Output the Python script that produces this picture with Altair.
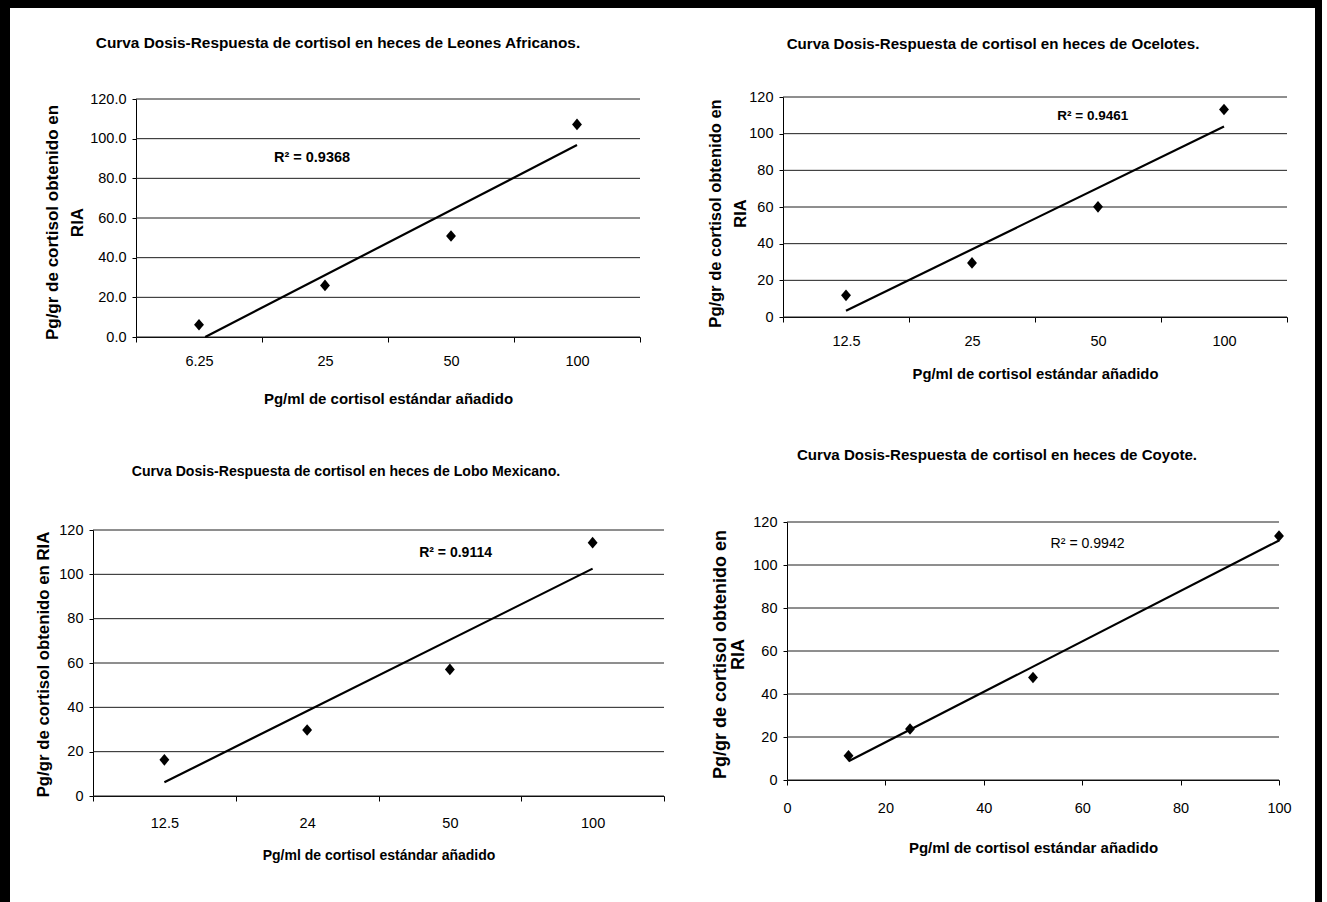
import json
import numpy as np
import pandas as pd
import altair as alt

FONT = "Liberation Sans, Arial, Helvetica, sans-serif"
DIAMOND = "M-0.85,0L0,-1L0.85,0L0,1Z"

# ---------------- data ----------------
leon_cats = ["6.25", "25", "50", "100"]
leon_vals = [6.2, 26.0, 50.9, 107.2]
leon_title = "Curva Dosis-Respuesta de cortisol en heces de Leones Africanos."
leon_r2 = "R\u00b2 = 0.9368"

ocel_cats = ["12.5", "25", "50", "100"]
ocel_vals = [11.8, 29.5, 60.1, 113.2]
ocel_title = "Curva Dosis-Respuesta de cortisol en heces de Ocelotes."
ocel_r2 = "R\u00b2 = 0.9461"

lobo_cats = ["12.5", "24", "50", "100"]
lobo_vals = [16.3, 29.8, 57.1, 114.3]
lobo_title = "Curva Dosis-Respuesta de cortisol en heces de Lobo Mexicano."
lobo_r2 = "R\u00b2 = 0.9114"

coyo_x = [12.5, 25, 50, 100]
coyo_vals = [11.3, 23.7, 47.7, 113.5]
coyo_title = "Curva Dosis-Respuesta de cortisol en heces de Coyote."
coyo_r2 = "R\u00b2 = 0.9942"

y_ticks = [0, 20, 40, 60, 80, 100, 120]
coyo_x_ticks = [0, 20, 40, 60, 80, 100]

x_title = "Pg/ml de cortisol est\u00e1ndar a\u00f1adido"
y_title_two = ["Pg/gr de cortisol obtenido en", "RIA"]
y_title_one = "Pg/gr de cortisol obtenido en RIA"

W, H = 1305, 894  # drawing area inside the black frame


def panel(xs_data, vals, title, r2, r2_at, box, *, cats=None, x_ticks=None,
          x_domain=None, yfmt="d", ytitle=None, ytitle_size=17, ytitle_xy=(-60, 100),
          ytitle_lh=25, title_size=15, title_xy=(0, 0), xlab_center=25,
          xtitle_y=60, xtitle_size=15, r2_size=14.5, r2_weight="bold"):
    xl, xr, yt, yb = box
    if cats is not None:
        n = len(cats)
        xs_data = list(range(1, n + 1))
        x_domain = [0.5, n + 0.5]
        x_values = [v / 2 for v in range(1, 2 * n + 2)]
        label_expr = ("datum.value % 1 === 0 ? " + json.dumps(cats)
                      + "[datum.value - 1] : ''")
        tick_op = {"condition": {"test": "datum.value % 1 === 0", "value": 0},
                   "value": 1}
    else:
        x_values = x_ticks
        label_expr = "datum.label"
        tick_op = 1
    df = pd.DataFrame({"pos": xs_data, "val": vals})

    # linear trend line (as the spreadsheet draws it), cut at the y-axis minimum
    slope, icpt = np.polyfit(np.array(xs_data, float), np.array(vals, float), 1)
    x0, x1 = float(min(xs_data)), float(max(xs_data))
    if slope * x0 + icpt < 0:
        x0 = -icpt / slope
    trend_df = pd.DataFrame({"pos": [x0, x1],
                             "val": [slope * x0 + icpt, slope * x1 + icpt]})

    xs = alt.Scale(domain=x_domain, range=[xl, xr], nice=False, zero=False)
    ys = alt.Scale(domain=[0, 120], range=[yb, yt], nice=False, zero=False)

    x_axis = alt.Axis(orient="bottom", offset=yb - H, values=x_values,
                      labelExpr=label_expr, tickOpacity=tick_op,
                      tickSize=5, tickColor="black", domainColor="black",
                      domainWidth=1, grid=False, labelFont=FONT, labelFontSize=14.5,
                      labelColor="black", labelBaseline="middle",
                      labelPadding=xlab_center - 5, labelFlush=False,
                      labelOverlap=False, title=x_title, titleFont=FONT,
                      titleFontSize=xtitle_size, titleFontWeight="bold",
                      titleColor="black", titleX=(xl + xr) / 2, titleY=xtitle_y,
                      titleBaseline="middle", titleAlign="center")
    y_axis = alt.Axis(orient="left", offset=-xl, values=y_ticks, format=yfmt,
                      tickSize=4, tickColor="black", domainColor="black",
                      domainWidth=1, grid=False, labelFont=FONT,
                      labelFontSize=14.5, labelColor="black", labelPadding=6,
                      labelOverlap=False, title=ytitle, titleFont=FONT,
                      titleFontSize=ytitle_size, titleFontWeight="bold",
                      titleColor="black", titleAngle=270, titleBaseline="middle",
                      titleAlign="center", titleX=ytitle_xy[0], titleY=ytitle_xy[1],
                      titleLineHeight=ytitle_lh)

    grid = alt.Chart(pd.DataFrame({"tick": y_ticks})).mark_rule(
        color="#1e1e1e", strokeWidth=1
    ).encode(
        y=alt.Y("tick:Q"),
        x=alt.XDatum(x_domain[0], type="quantitative"),
        x2=alt.X2Datum(x_domain[1]),
    )
    trend = alt.Chart(trend_df).mark_line(color="black", strokeWidth=2.2).encode(
        x=alt.X("pos:Q"),
        y=alt.Y("val:Q"),
    )
    points = alt.Chart(df).mark_point(shape=DIAMOND, filled=True, size=135,
                                      color="black", opacity=1).encode(
        x=alt.X("pos:Q", scale=xs, axis=x_axis),
        y=alt.Y("val:Q", scale=ys, axis=y_axis),
    )
    note = alt.Chart(pd.DataFrame({"label": [r2]})).mark_text(
        font=FONT, fontSize=r2_size, fontWeight=r2_weight, color="black",
        align="center", baseline="middle"
    ).encode(
        x=alt.XDatum(r2_at[0], type="quantitative"),
        y=alt.YDatum(r2_at[1], type="quantitative"),
        text="label:N",
    )
    head = alt.Chart(pd.DataFrame({"label": [title]})).mark_text(
        font=FONT, fontSize=title_size, fontWeight="bold", color="black",
        align="center", baseline="middle"
    ).encode(
        x=alt.value(title_xy[0]), y=alt.value(title_xy[1]), text="label:N"
    )
    return alt.layer(grid, trend, points, note, head)


p1 = panel(None, leon_vals, leon_title, leon_r2, (1.897, 90.4), (126, 630, 91, 329),
           cats=leon_cats, yfmt=".1f", ytitle=y_title_two, ytitle_size=17,
           ytitle_xy=(-83.2, 214), ytitle_lh=25, title_size=15.4,
           title_xy=(328, 35.4), xlab_center=24.7, xtitle_y=61, xtitle_size=15,
           r2_size=14.5)
p2 = panel(None, ocel_vals, ocel_title, ocel_r2, (2.958, 109.6), (773, 1277, 89, 309),
           cats=ocel_cats, ytitle=y_title_two, ytitle_size=16.5,
           ytitle_xy=(-67.9, 205), ytitle_lh=25.6, title_size=15.1,
           title_xy=(983, 36.3), xlab_center=24.6, xtitle_y=57.8, xtitle_size=14.8,
           r2_size=13.5)
p3 = panel(None, lobo_vals, lobo_title, lobo_r2, (3.04, 109.5), (83, 654, 522, 788),
           cats=lobo_cats, ytitle=y_title_one, ytitle_size=16.8,
           ytitle_xy=(-49.6, 656), ytitle_lh=20, title_size=14.1,
           title_xy=(336, 463.7), xlab_center=27, xtitle_y=59, xtitle_size=14,
           r2_size=14)
p4 = panel(coyo_x, coyo_vals, coyo_title, coyo_r2, (61.1, 109.7), (777, 1269, 514, 772),
           x_ticks=coyo_x_ticks, x_domain=[0, 100], ytitle=y_title_two,
           ytitle_size=18, ytitle_xy=(-67.0, 646), ytitle_lh=18.3, title_size=15.1,
           title_xy=(987, 446.7), xlab_center=28.3, xtitle_y=67.4, xtitle_size=15,
           r2_size=14.1, r2_weight="normal")

chart = alt.layer(p1, p2, p3, p4).resolve_scale(
    x="independent", y="independent"
).resolve_axis(
    x="independent", y="independent"
).properties(
    width=W, height=H,
    padding={"left": 10, "top": 8, "right": 7, "bottom": 0},
    autosize=alt.AutoSizeParams(type="none"),
    background="black",
).configure_view(fill="white", strokeWidth=0)

chart.save("out.html", embed_options={"renderer": "svg", "actions": False})
